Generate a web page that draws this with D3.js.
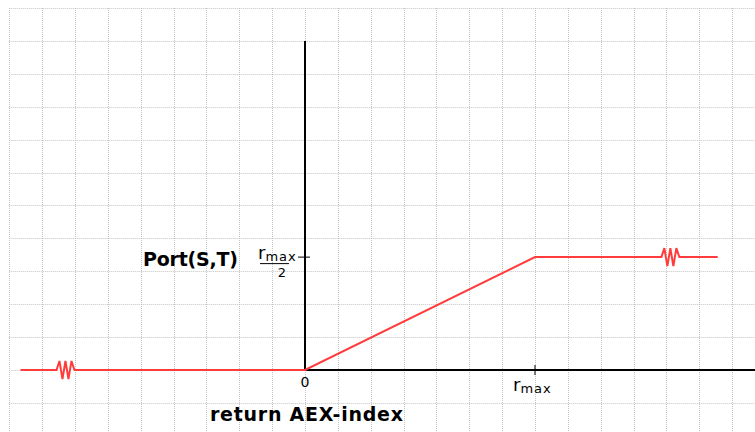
<!DOCTYPE html>
<html>
<head>
<meta charset="utf-8">
<script src="https://cdn.jsdelivr.net/npm/d3@7"></script>
<style>
  body { margin: 0; background: #fff; }
  svg { display: block; }
</style>
</head>
<body>
<svg id="chart"></svg>
<script>
// values are in grid cells (one cell = one dotted square)
let rMax = 7;
let curveX = [-8.66, 0, 7, 12.56];
let curveY = [0, 0, 3.43, 3.43];
let breakX = [-7.26, 11.15];
let gridXTicks = d3.range(-9, 14);
let gridYTicks = d3.range(-1, 12);
let yLabel = 'Port(S,T)';
let xLabel = 'return AEX-index';

let width = 755, height = 432;
let font = 'DejaVu Sans, Verdana, sans-serif';
let red = '#ff3c3c';

let svg = d3.select('#chart')
    .attr('width', width)
    .attr('height', height);

let xScale = d3.scaleLinear().domain([0, rMax]).range([305, 535]);
let yScale = d3.scaleLinear().domain([0, 11]).range([370, 8]);

// dotted grid
let grid = svg.append('g')
    .attr('stroke', '#c4c4c4')
    .attr('stroke-width', 1)
    .attr('stroke-dasharray', '1,1');

grid.selectAll('.gx')
    .data(gridXTicks)
    .enter()
    .append('line')
    .attr('x1', d => Math.round(xScale(d)) + 0.5)
    .attr('x2', d => Math.round(xScale(d)) + 0.5)
    .attr('y1', yScale(11))
    .attr('y2', height);

grid.selectAll('.gy')
    .data(gridYTicks)
    .enter()
    .append('line')
    .attr('y1', d => Math.round(yScale(d)) + 0.5)
    .attr('y2', d => Math.round(yScale(d)) + 0.5)
    .attr('x1', xScale(-9))
    .attr('x2', width);

// axes
svg.append('line')
    .attr('x1', xScale(0)).attr('x2', xScale(0))
    .attr('y1', yScale(10)).attr('y2', yScale(0))
    .attr('stroke', '#000').attr('stroke-width', 2);

svg.append('line')
    .attr('x1', xScale(0)).attr('x2', width)
    .attr('y1', yScale(0)).attr('y2', yScale(0))
    .attr('stroke', '#000').attr('stroke-width', 2);

// ticks
svg.append('line')
    .attr('x1', xScale(0) - 7).attr('x2', xScale(0) + 5)
    .attr('y1', yScale(curveY[2])).attr('y2', yScale(curveY[2]))
    .attr('stroke', '#000').attr('stroke-width', 1);

svg.append('line')
    .attr('x1', xScale(rMax)).attr('x2', xScale(rMax))
    .attr('y1', yScale(0) - 5).attr('y2', yScale(0) + 5)
    .attr('stroke', '#000').attr('stroke-width', 1);

// curve
let points = curveX.map((x, i) => [x, curveY[i]]);
let line = d3.line()
    .x(d => xScale(d[0]))
    .y(d => yScale(d[1]));

svg.append('path')
    .datum(points)
    .attr('d', line)
    .attr('fill', 'none')
    .attr('stroke', red)
    .attr('stroke-width', 2);

// break marks (zigzags) on the curve
let zig = [[-10, 0], [-7, -9], [-4, 9], [-1, -9], [2, 9], [5, -9], [8, 0], [10, 0]];
breakX.forEach(function (bx) {
    let by = bx < 0 ? curveY[0] : curveY[3];
    let cx = xScale(bx), cy = yScale(by);
    svg.append('rect')
        .attr('x', cx - 9).attr('y', cy - 1.5)
        .attr('width', 18).attr('height', 3)
        .attr('fill', '#fff');
    svg.append('path')
        .attr('d', d3.line()(zig.map(p => [cx + p[0], cy + p[1]])))
        .attr('fill', 'none')
        .attr('stroke', red)
        .attr('stroke-width', 2);
});

// labels
svg.append('text')
    .attr('x', 143).attr('y', 266)
    .attr('font-family', font)
    .attr('font-weight', 'bold')
    .attr('font-size', 19)
    .attr('textLength', 95)
    .attr('lengthAdjust', 'spacing')
    .text(yLabel);

svg.append('text')
    .attr('x', 210).attr('y', 421)
    .attr('font-family', font)
    .attr('font-weight', 'bold')
    .attr('font-size', 19)
    .attr('textLength', 193)
    .attr('lengthAdjust', 'spacing')
    .text(xLabel);

// r_max / 2 on y axis
let fy = yScale(curveY[2]);
let frac = svg.append('text')
    .attr('x', 258).attr('y', fy + 2)
    .attr('font-family', font)
    .attr('font-size', 18);
frac.append('tspan').text('r');
frac.append('tspan').attr('font-size', 13).attr('dy', 2).attr('letter-spacing', 1).text('max');
svg.append('line')
    .attr('x1', 260).attr('x2', 289)
    .attr('y1', fy + 6.5).attr('y2', fy + 6.5)
    .attr('stroke', '#000').attr('stroke-width', 1);
svg.append('text')
    .attr('x', 282).attr('y', fy + 20)
    .attr('text-anchor', 'middle')
    .attr('font-family', font)
    .attr('font-size', 13)
    .text('2');

// x tick labels
svg.append('text')
    .attr('x', xScale(0)).attr('y', yScale(0) + 17)
    .attr('text-anchor', 'middle')
    .attr('font-family', font)
    .attr('font-size', 14)
    .text('0');

let rl = svg.append('text')
    .attr('x', xScale(rMax) - 22).attr('y', yScale(0) + 21)
    .attr('font-family', font)
    .attr('font-size', 18);
rl.append('tspan').text('r');
rl.append('tspan').attr('font-size', 13).attr('dy', 2).attr('letter-spacing', 1).text('max');
</script>
</body>
</html>
